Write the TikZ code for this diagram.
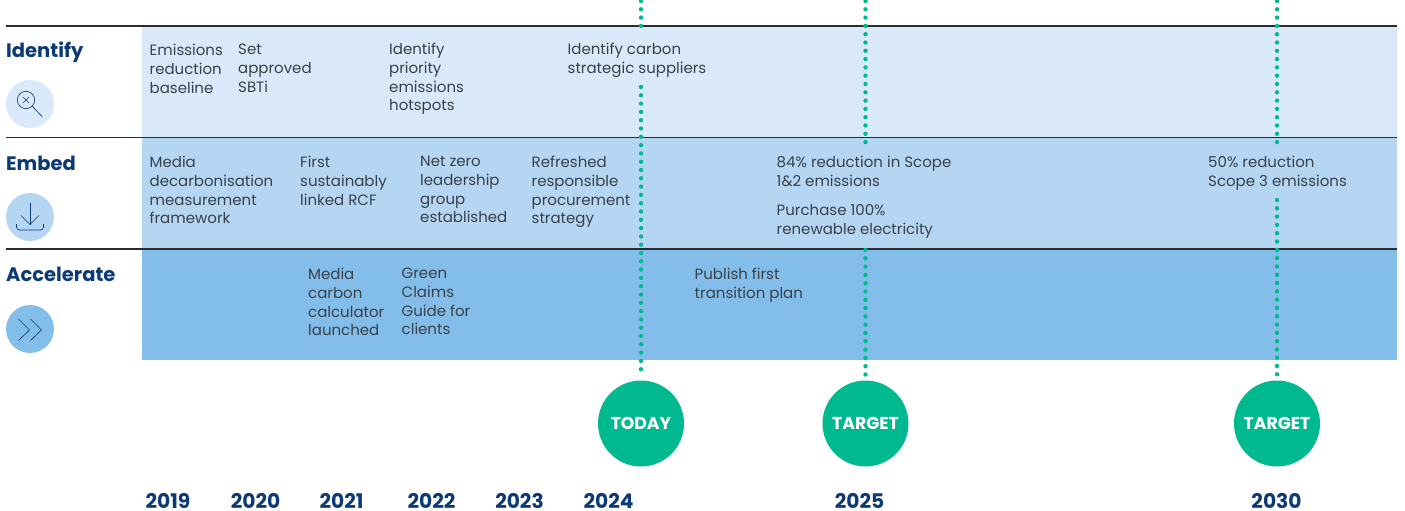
\documentclass[tikz,border=0pt]{standalone}
\usepackage{fontspec}
\setmainfont{Poppins}
\definecolor{bandone}{HTML}{DAE9F9}
\definecolor{bandtwo}{HTML}{B5D6F3}
\definecolor{bandthree}{HTML}{83BEEB}
\definecolor{navy}{HTML}{0B3A75}
\definecolor{ink}{HTML}{3A4048}
\definecolor{rule}{HTML}{2A2C30}
\definecolor{mint}{HTML}{00B98F}
\tikzset{
  band/.style={draw=none,minimum width=1255,anchor=north west,inner sep=0},
  entry/.style={anchor=north west,align=left,inner sep=0,text=ink,font=\fontsize{15}{18.7}\selectfont},
  head/.style={anchor=west,inner sep=0,text=navy,font=\fontsize{19.5}{22}\bfseries\selectfont},
  year/.style={inner sep=0,text=navy,font=\fontsize{20.2}{22}\bfseries\selectfont},
  badge/.style={circle,fill=mint,minimum size=86,inner sep=0,text=white,font=\fontsize{17.2}{18}\bfseries\selectfont},
  icon/.style={circle,minimum size=48,inner sep=0},
  glyph/.style={draw=navy,line width=0.65pt},
  dots/.style={draw=mint,line width=4.4pt,line cap=round,dash pattern=on 0pt off 8.3pt},
  sep/.style={draw=rule,line width=1.2pt}
}
\begin{document}
\begin{tikzpicture}[x=1pt,y=-1pt]
\useasboundingbox (0,0) rectangle (1405,511);
% bands
\node[band,fill=bandone,minimum height=111] (b1) at (142,26) {};
\node[band,fill=bandtwo,minimum height=112] (b2) at (142,137) {};
\node[band,fill=bandthree,minimum height=111] (b3) at (142,249) {};
% rules
\coordinate (r1a) at (6,26); \coordinate (r1b) at (1397,26);
\coordinate (r2a) at (6,137.5); \coordinate (r2b) at (1397,137.5);
\coordinate (r3a) at (6,249); \coordinate (r3b) at (1397,249);
\path[sep] (r1a) -- (r1b);
\path[sep] (r2a) -- (r2b);
\path[sep] (r3a) -- (r3b);
% row names
\node[head] (identify) at (6,52.5) {Identify};
\node[head] (embed) at (6,163.5) {Embed};
\node[head] (accelerate) at (6,274.5) {Accelerate};
% icons
\node[icon,fill=bandone] (i1) at (30,104) {};
\node[icon,fill=bandtwo] (i2) at (30,217) {};
\node[icon,fill=bandthree] (i3) at (30,329) {};
\draw[glyph] (26,100) circle (8.7);
\draw[glyph] (23,97) -- (29,103) (29,97) -- (23,103);
\draw[glyph] (32.2,106.2) -- (42.5,117);
\draw[glyph] (30,203) -- (30,224.5);
\draw[glyph] (21,215.5) -- (30,224.5) -- (39,215.5);
\draw[glyph,rounded corners=3] (16.5,224) -- (16.5,230) -- (43.5,230) -- (43.5,224);
\draw[glyph] (18.5,319) -- (29.5,330) -- (18.5,340.5);
\draw[glyph] (30.5,319) -- (41.5,330) -- (30.5,340.5);
% Identify
\node[entry] (e1) at (149.5,44) {Emissions\\reduction\\baseline};
\node[entry] (e2) at (238,44) {Set\\approved\\SBTi};
\node[entry] (e3) at (389,43) {Identify\\priority\\emissions\\hotspots};
\node[entry] (e4) at (567.5,43) {Identify carbon\\strategic suppliers};
% Embed
\node[entry] (m1) at (149.5,156) {Media\\decarbonisation\\measurement\\framework};
\node[entry] (m2) at (300,156) {First\\sustainably\\linked RCF};
\node[entry] (m3) at (420,156) {Net zero\\leadership\\group\\established};
\node[entry] (m4) at (531.5,156) {Refreshed\\responsible\\procurement\\strategy};
\node[entry] (m5) at (776.5,156) {84\% reduction in Scope\\1\&2 emissions};
\node[entry] (m6) at (776.5,204) {Purchase 100\%\\renewable electricity};
\node[entry] (m7) at (1208,156) {50\% reduction\\Scope 3 emissions};
% Accelerate
\node[entry] (a1) at (308,268) {Media\\carbon\\calculator\\launched};
\node[entry] (a2) at (401.5,268) {Green\\Claims\\Guide for\\clients};
\node[entry] (a3) at (694.5,268) {Publish first\\transition plan};
% badges
\node[badge] (today) at (641,423.5) {TODAY};
\node[badge] (target1) at (865.5,423.5) {TARGET};
\node[badge] (target2) at (1277,423.5) {TARGET};
% dotted lines
\coordinate (t0) at (641,1); \coordinate (t1) at (641,26); \coordinate (t2) at (641,87);
\coordinate (u0) at (865.5,1); \coordinate (u1) at (865.5,143); \coordinate (u2) at (865.5,250);
\coordinate (v0) at (1277,1); \coordinate (v1) at (1277,143); \coordinate (v2) at (1277,200);
\path[dots] (t0) -- (t1);
\path[dots,shorten >=4] (t2) -- (today);
\path[dots] (u0) -- (u1);
\path[dots,shorten >=4] (u2) -- (target1);
\path[dots] (v0) -- (v1);
\path[dots,shorten >=4] (v2) -- (target2);
% years
\node[year] (y19) at (168,501) {2019};
\node[year] (y20) at (255.5,501) {2020};
\node[year] (y21) at (341.5,501) {2021};
\node[year] (y22) at (431.5,501) {2022};
\node[year] (y23) at (519.5,501) {2023};
\node[year] (y24) at (608.5,501) {2024};
\node[year] (y25) at (859.5,501) {2025};
\node[year] (y30) at (1276.5,501) {2030};
\end{tikzpicture}
\end{document}
